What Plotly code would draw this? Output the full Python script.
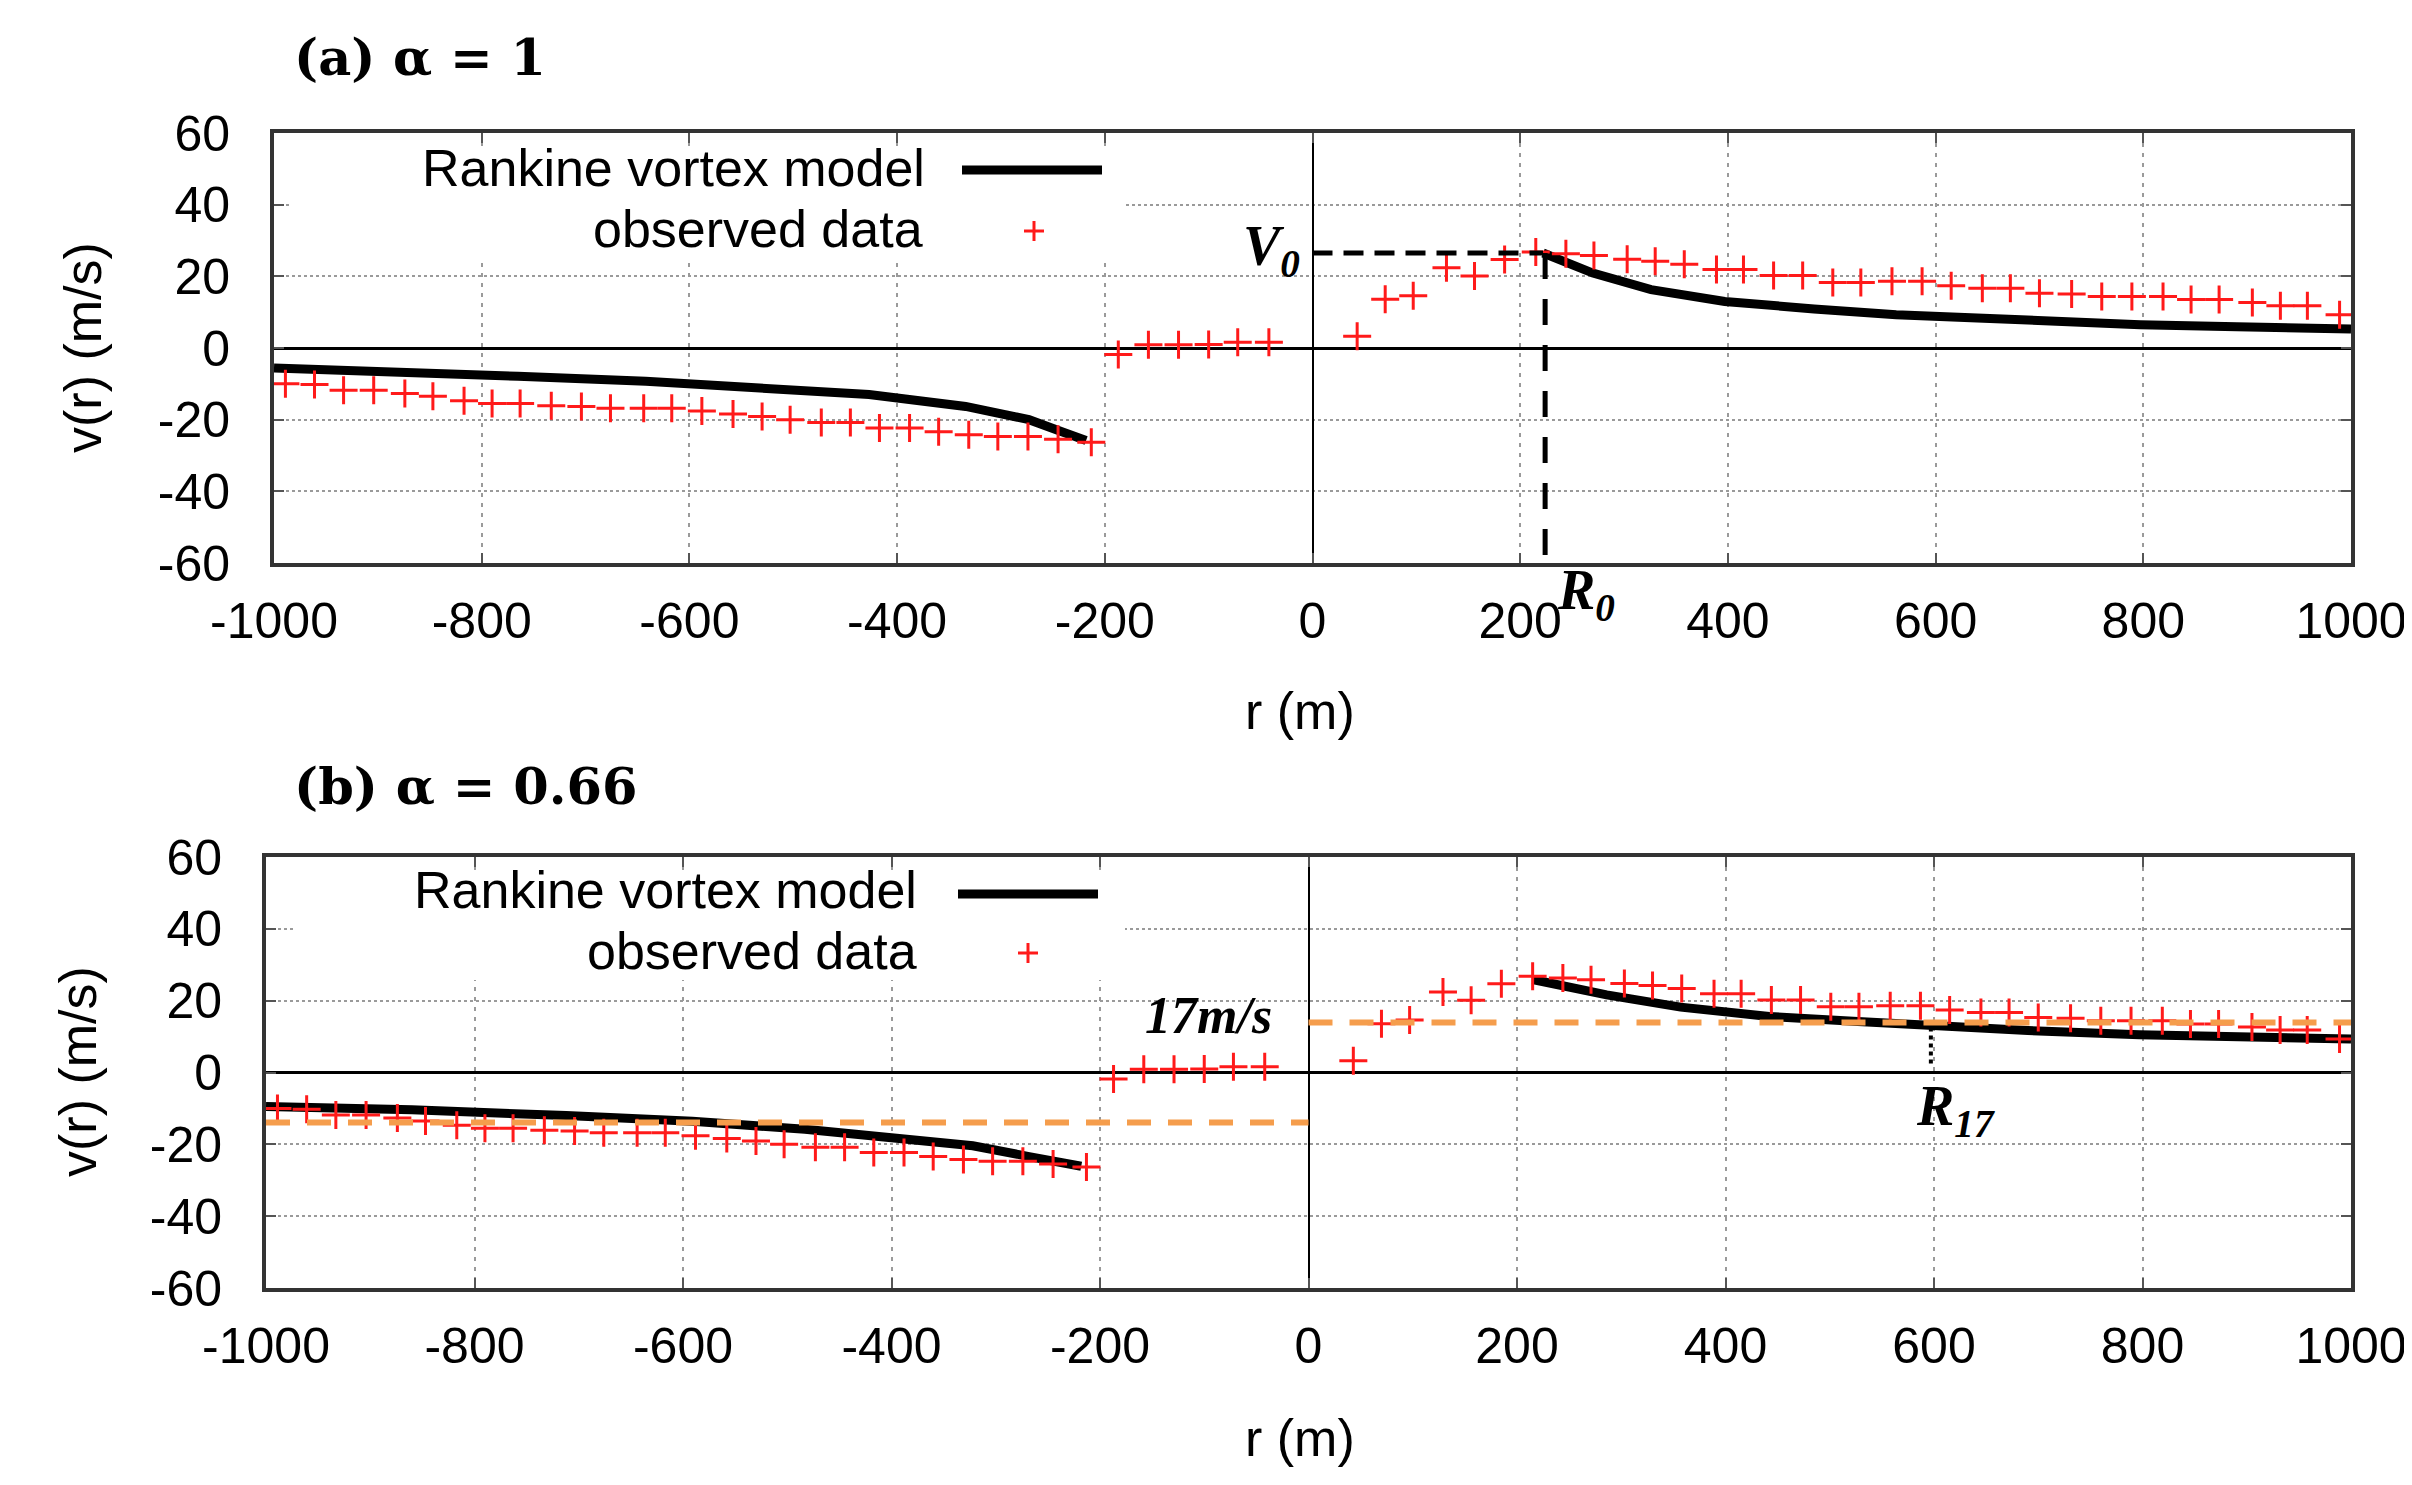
import plotly.graph_objects as go

# ---------------- data ----------------
r_obs = [-989, -961, -933, -904, -874, -847, -817, -790, -763, -733, -704, -676, -644, -617,
         -588, -558, -530, -503, -473, -445, -417, -388, -360, -331, -303, -274, -245, -213,
         -187, -158, -129, -100, -72, -42,
         43, 70, 97, 129, 156, 185, 215, 244, 271, 303, 330, 358, 389, 415, 444, 472, 501,
         528, 558, 587, 615, 645, 672, 700, 731, 760, 789, 819, 846, 873, 905, 932, 958, 989]
v_obs = [-10.0, -10.2, -11.8, -11.8, -12.7, -13.5, -14.7, -15.5, -15.5, -16.1, -16.3, -16.8,
         -16.8, -16.8, -17.6, -18.4, -19.1, -20.0, -20.8, -20.8, -22.3, -22.3, -23.4, -24.2,
         -24.7, -24.7, -25.5, -26.3,
         -1.8, 0.9, 0.9, 1.0, 1.6, 1.6,
         3.3, 13.6, 14.6, 22.4, 20.1, 24.7, 26.8, 26.3, 25.8, 24.8, 24.2, 23.4, 21.9, 21.9,
         20.2, 20.2, 18.3, 18.3, 18.6, 18.6, 17.4, 16.7, 16.7, 15.3, 15.1, 14.4, 14.4, 14.4,
         13.5, 13.5, 12.7, 11.8, 11.8, 9.3]

# Rankine model, alpha = 1 (panel a)
r_model_a_left = [-1000, -887, -765, -642, -531, -427, -334, -304, -273, -242, -218]
v_model_a_left = [-5.6, -6.5, -7.9, -9.3, -10.9, -13.0, -16.3, -18.1, -20.0, -23.3, -25.8]
r_model_a_right = [222, 270, 326, 397, 483, 562, 640, 712, 797, 890, 1000]
v_model_a_right = [26.5, 20.9, 16.3, 13.0, 10.9, 9.3, 8.4, 7.4, 6.5, 5.9, 5.3]

# Rankine model, alpha = 0.66 (panel b)
r_model_b_left = [-1000, -860, -712, -591, -483, -389, -322, -268, -218]
v_model_b_left = [-9.5, -10.4, -12.0, -13.6, -15.8, -18.3, -20.4, -23.4, -26.1]
r_model_b_right = [215, 286, 357, 442, 527, 598, 690, 797, 890, 1000]
v_model_b_right = [25.9, 21.6, 18.2, 15.6, 14.2, 13.0, 11.7, 10.5, 9.8, 9.3]

x_tick_vals = [-1000, -800, -600, -400, -200, 0, 200, 400, 600, 800, 1000]
x_tick_text = ["-1000", "-800", "-600", "-400", "-200", "0", "200", "400", "600", "800", "1000"]
y_tick_vals = [-60, -40, -20, 0, 20, 40, 60]
y_tick_text = ["-60", "-40", "-20", "0", "20", "40", "60"]

# annotation reference values
R0, V0 = 224, 26.5
V17_LEVEL = 13.9
R17 = 597

# ---------------- layout helpers ----------------
# page body has an 8px margin: offset the figure so it lines up with the window
OFF = 8
W, H = 2412 - OFF, 1485 - 2 * OFF


def xp(px):
    """screen x pixel (reference coords) -> paper fraction"""
    return (px - OFF) / W


def yp(py):
    """screen y pixel (reference coords) -> paper fraction"""
    return 1 - (py - OFF) / H


PANELS = {
    "a": dict(x0=274, x1=2351, y0=133, y1=563),
    "b": dict(x0=266, x1=2351, y0=857, y1=1288),
}


def dy(p, v):
    return yp(p["y1"] - (v + 60) / 120 * (p["y1"] - p["y0"]))


SANS = "Liberation Sans, Arial, sans-serif"
SERIF = "Liberation Serif, Times New Roman, serif"
RED = "#ff1a1a"
ORANGE = "#f59d4c"

fig = go.Figure()


def model_xy(rl, vl, rr, vr):
    return list(rl) + [None] + list(rr), list(vl) + [None] + list(vr)


for key, (xa, ya, ml, mv) in {
    "a": ("x", "y", *model_xy(r_model_a_left, v_model_a_left, r_model_a_right, v_model_a_right)),
    "b": ("x2", "y2", *model_xy(r_model_b_left, v_model_b_left, r_model_b_right, v_model_b_right)),
}.items():
    fig.add_trace(go.Scatter(x=ml, y=mv, mode="lines", xaxis=xa, yaxis=ya,
                             line=dict(color="black", width=9), showlegend=False,
                             connectgaps=False))
    fig.add_trace(go.Scatter(x=r_obs, y=v_obs, mode="markers", xaxis=xa, yaxis=ya,
                             marker=dict(symbol="cross-thin", size=20,
                                         line=dict(color=RED, width=3)),
                             showlegend=False))

axis_common = dict(
    automargin=False, showline=True, linecolor="#333333", linewidth=4, mirror="ticks",
    ticks="inside", ticklen=10, tickwidth=2, tickcolor="#555555",
    showgrid=True, gridcolor="#9a9a9a", gridwidth=2,
    zeroline=True, zerolinecolor="black", ticklabeloverflow="allow",
    tickfont=dict(family=SANS, size=50, color="black"),
)

for key, xname, yname in (("a", "xaxis", "yaxis"), ("b", "xaxis2", "yaxis2")):
    p = PANELS[key]
    xd = [xp(p["x0"]), xp(p["x1"])]
    yd = [yp(p["y1"]), yp(p["y0"])]
    xaxis = dict(axis_common)
    xaxis.update(range=[-1000, 1000], domain=xd, tickvals=x_tick_vals, ticktext=x_tick_text,
                 griddash="4px,6px", zerolinewidth=2, ticklabelstandoff=11,
                 anchor="y" if key == "a" else "y2")
    yaxis = dict(axis_common)
    yaxis.update(range=[-60, 60], domain=yd, tickvals=y_tick_vals, ticktext=y_tick_text,
                 griddash="3px,3px", zerolinewidth=3, ticklabelstandoff=30,
                 anchor="x" if key == "a" else "x2")
    fig.layout[xname] = xaxis
    fig.layout[yname] = yaxis

shapes = []
annotations = []

# legends (manual, text left of sample like gnuplot)
for key, lg in {
    "a": dict(box=(290, 146, 1125, 262), line_y=170, line_x=(962, 1102), t1=(927, 168),
              t2=(925, 229), plus=(1034, 231)),
    "b": dict(box=(295, 870, 1125, 980), line_y=894, line_x=(958, 1098), t1=(919, 890),
              t2=(919, 951), plus=(1028, 953)),
}.items():
    bx0, by0, bx1, by1 = lg["box"]
    shapes.append(dict(type="rect", xref="paper", yref="paper", x0=xp(bx0), x1=xp(bx1),
                       y0=yp(by1), y1=yp(by0), fillcolor="white", line=dict(width=0),
                       layer="above"))
    shapes.append(dict(type="line", xref="paper", yref="paper", x0=xp(lg["line_x"][0]),
                       x1=xp(lg["line_x"][1]), y0=yp(lg["line_y"]), y1=yp(lg["line_y"]),
                       line=dict(color="black", width=9), layer="above"))
    cx, cy = lg["plus"]
    shapes.append(dict(type="line", xref="paper", yref="paper", x0=xp(cx - 10), x1=xp(cx + 10),
                       y0=yp(cy), y1=yp(cy), line=dict(color=RED, width=3), layer="above"))
    shapes.append(dict(type="line", xref="paper", yref="paper", x0=xp(cx), x1=xp(cx),
                       y0=yp(cy - 10), y1=yp(cy + 10), line=dict(color=RED, width=3), layer="above"))
    annotations.append(dict(text="Rankine vortex model", xref="paper", yref="paper",
                            x=xp(lg["t1"][0]), y=yp(lg["t1"][1]), xanchor="right", yanchor="middle",
                            showarrow=False, font=dict(family=SANS, size=52, color="black")))
    annotations.append(dict(text="observed data", xref="paper", yref="paper",
                            x=xp(lg["t2"][0]), y=yp(lg["t2"][1]), xanchor="right", yanchor="middle",
                            showarrow=False, font=dict(family=SANS, size=52, color="black")))

# panel a: V0 / R0 markers
pa = PANELS["a"]
shapes.append(dict(type="line", xref="x", yref="y", x0=0, x1=R0 - 2, y0=V0, y1=V0,
                   line=dict(color="black", width=5, dash="20px,11px")))
shapes.append(dict(type="line", xref="paper", yref="paper",
                   x0=xp(pa["x0"] + (R0 + 1000) / 2000 * (pa["x1"] - pa["x0"])),
                   x1=xp(pa["x0"] + (R0 + 1000) / 2000 * (pa["x1"] - pa["x0"])),
                   y0=dy(pa, V0), y1=yp(573), line=dict(color="black", width=5, dash="26px,20px")))

# panel b: 17 m/s levels and R17
shapes.append(dict(type="line", xref="x2", yref="y2", x0=-1000, x1=0, y0=-V17_LEVEL,
                   y1=-V17_LEVEL, line=dict(color=ORANGE, width=6, dash="24px,17px")))
shapes.append(dict(type="line", xref="x2", yref="y2", x0=0, x1=1000, y0=V17_LEVEL,
                   y1=V17_LEVEL, line=dict(color=ORANGE, width=6, dash="24px,17px")))
shapes.append(dict(type="line", xref="x2", yref="y2", x0=R17, x1=R17, y0=12.5, y1=2,
                   line=dict(color="black", width=4, dash="4px,4px")))

titles = [
    ("<b>(a) α = 1</b>", 292, 57),
    ("<b>(b) α = 0.66</b>", 292, 786),
]
for t, x, y in titles:
    annotations.append(dict(text=t, xref="paper", yref="paper", x=xp(x), y=yp(y),
                            xanchor="left", yanchor="middle", showarrow=False,
                            font=dict(family="DejaVu Serif, serif", size=51, color="black")))

for x, y in ((83, 348), (78, 1072)):
    annotations.append(dict(text="v(r) (m/s)", xref="paper", yref="paper", x=xp(x), y=yp(y),
                            xanchor="center", yanchor="middle", textangle=-90, showarrow=False,
                            font=dict(family=SANS, size=52, color="black")))
for x, y in ((1300, 711), (1300, 1438)):
    annotations.append(dict(text="r (m)", xref="paper", yref="paper", x=xp(x), y=yp(y),
                            xanchor="center", yanchor="middle", showarrow=False,
                            font=dict(family=SANS, size=52, color="black")))

lab_font = dict(family=SERIF, size=56, color="black")
annotations += [
    dict(text="<b><i>V<sub>0</sub></i></b>", xref="paper", yref="paper", x=xp(1302), y=yp(250),
         xanchor="right", yanchor="middle", showarrow=False, font=lab_font),
    dict(text="<b><i>R<sub>0</sub></i></b>", xref="paper", yref="paper", x=xp(1555), y=yp(594),
         xanchor="left", yanchor="middle", showarrow=False, font=lab_font),
    dict(text="<b><i>17m/s</i></b>", xref="paper", yref="paper", x=xp(1274), y=yp(1015),
         xanchor="right", yanchor="middle", showarrow=False,
         font=dict(family=SERIF, size=52, color="black")),
    dict(text="<b><i>R<sub>17</sub></i></b>", xref="paper", yref="paper", x=xp(1914), y=yp(1110),
         xanchor="left", yanchor="middle", showarrow=False, font=lab_font),
]

fig.update_layout(
    width=W, height=H, margin=dict(l=0, r=0, t=0, b=0, autoexpand=False),
    paper_bgcolor="white", plot_bgcolor="white",
    shapes=shapes, annotations=annotations, showlegend=False,
)

fig.write_html("out.html")
